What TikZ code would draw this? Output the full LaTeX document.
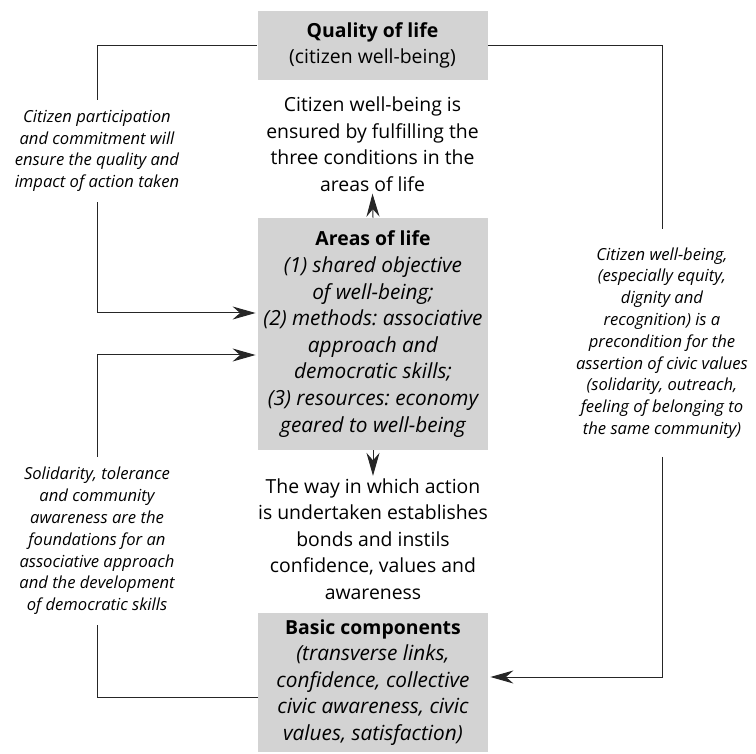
\documentclass[tikz,border=0pt]{standalone}
\usepackage{fontspec}
\setmainfont{Open Sans}
\usetikzlibrary{arrows.meta, positioning}
\definecolor{boxgray}{RGB}{211,211,211}
\frenchspacing

\begin{document}
\begin{tikzpicture}[x=0.5pt, y=-0.5pt, >={Stealth[length=11.5pt, width=6.5pt]},
                    node distance=7pt]
  \tikzset{
    compbox/.style={fill=boxgray, minimum width=115pt, align=center,
                    inner sep=0pt, font=\fontsize{9.7}{13.25}\selectfont},
    listbox/.style={compbox, font=\fontsize{10.4}{13.3}\selectfont\itshape},
    midtext/.style={align=center, inner sep=1pt,
                    font=\fontsize{9.7}{13.25}\selectfont},
    sidelabel/.style={align=center, inner xsep=0pt,
                      font=\fontsize{8.3}{10.9}\selectfont\itshape},
    link/.style={line width=0.5pt, draw=black!85}
  }
  \useasboundingbox (0,0) rectangle (756,754);

  \node[compbox, minimum height=34.5pt] (qual) at (372.5,45.5)
    {\textbf{Quality of life}\\(citizen well-being)};
  \node[listbox, minimum height=116pt] (areas) at (373,334)
    {{\upshape\bfseries\fontsize{9.7}{13.3}\selectfont Areas of life}\\
     (1) shared objective\\of well-being;\\
     (2) methods: associative\\approach and\\democratic skills;\\
     (3) resources: economy\\geared to well-being};
  \node[listbox, minimum height=69.5pt] (basic) at (373,682.5)
    {{\upshape\bfseries\fontsize{9.7}{13.3}\selectfont Basic components}\\
     (transverse links,\\confidence, collective\\civic awareness, civic\\
     values, satisfaction)};

  \node[midtext, below=7pt of qual] (ensure)
    {Citizen well-being is\\ensured by fulfilling the\\three conditions in the\\areas of life};
  \node[midtext, above=5.5pt of basic] (bonds)
    {The way in which action\\is undertaken establishes\\bonds and instils\\
     confidence, values and\\awareness};

  \node[sidelabel, inner ysep=5pt] (particip) at (97,151)
    {Citizen participation\\and commitment will\\ensure the quality and\\impact of action taken};
  \node[sidelabel, inner ysep=9pt] (wellbeing) at (662,343)
    {Citizen well-being,\\(especially equity,\\dignity and\\recognition) is a\\
     precondition for the\\assertion of civic values\\(solidarity, outreach,\\
     feeling of belonging to\\the same community)};
  \node[sidelabel, inner ysep=5pt] (solidarity) at (97,541)
    {Solidarity, tolerance\\and community\\awareness are the\\foundations for an\\
     associative approach\\and the development\\of democratic skills};

  \draw[link] (qual.west) -| (particip.north);
  \draw[link, ->, shorten >=1pt] (particip.south) |- ([yshift=10.5pt]areas.west);
  \draw[link] (qual.east) -| (wellbeing.north);
  \draw[link, ->, shorten >=1pt] (wellbeing.south) |- ([yshift=2.75pt]basic.east);
  \draw[link] ([yshift=-7.25pt]basic.west) -| (solidarity.south);
  \draw[link, ->, shorten >=1pt] (solidarity.north) |- ([yshift=-10.5pt]areas.west);
  \draw[link, ->] (areas.north) -- (ensure.south);
  \draw[link, ->] (areas.south) -- (bonds.north);
\end{tikzpicture}
\end{document}
